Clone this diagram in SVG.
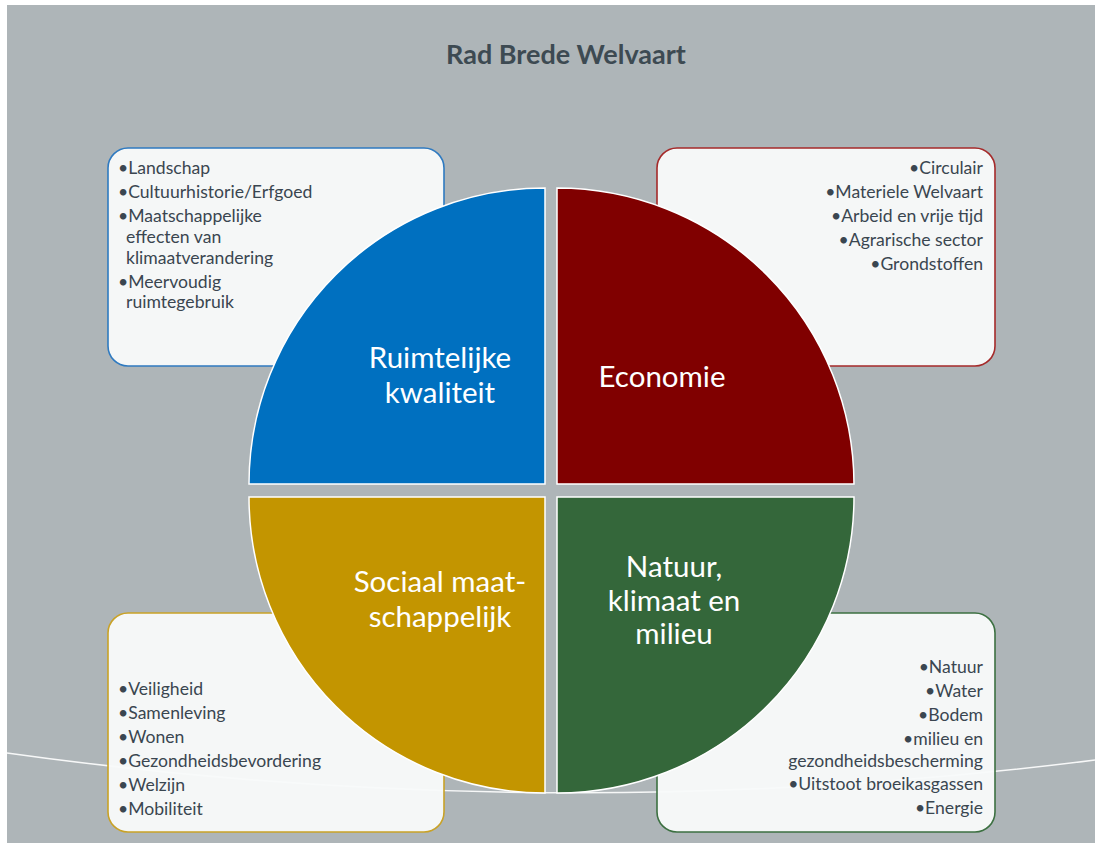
<svg xmlns="http://www.w3.org/2000/svg" width="1095" height="843" viewBox="0 0 1095 843">
  <style>
    .box { fill: #f8fafa; fill-opacity: 0.96; stroke-width: 1.6; }
    .q { stroke: #ffffff; stroke-width: 1.5; }
    .t { font-family: Lato, "Open Sans", sans-serif; font-size: 17.6px; fill: #3a4650; }
    .r { text-anchor: end; }
    .ql { font-family: Lato, "Open Sans", sans-serif; font-size: 29.5px; fill: #ffffff; text-anchor: middle; }
    .title { font-family: Lato, "Open Sans", sans-serif; font-size: 27px; font-weight: bold; fill: #3d4a52; text-anchor: middle; }
  </style>
  <rect x="0" y="0" width="1095" height="843" fill="#ffffff"/>
  <rect id="background" x="7" y="5" width="1088" height="838" fill="#aeb5b8"/>
  <text id="title" class="title" x="566" y="64">Rad Brede Welvaart</text>

  <g id="connectors">
    <path d="M7,753 Q551,829 1095,760" fill="none" stroke="#ffffff" stroke-width="1.5" stroke-opacity="0.9"/>
  </g>

  <g id="box-ruimtelijk">
    <rect class="box" x="108" y="148" width="336" height="218" rx="20" stroke="#2f7ac0"/>
    <text class="t" x="118" y="174">•Landschap</text>
    <text class="t" x="118" y="198">•Cultuurhistorie/Erfgoed</text>
    <text class="t" x="118" y="222">•Maatschappelijke</text>
    <text class="t" x="126" y="243">effecten van</text>
    <text class="t" x="126" y="264">klimaatverandering</text>
    <text class="t" x="118" y="288">•Meervoudig</text>
    <text class="t" x="126" y="308">ruimtegebruik</text>
  </g>
  <g id="box-economie">
    <rect class="box" x="657" y="148" width="338" height="218" rx="20" stroke="#a52a2a"/>
    <text class="t r" x="983" y="174">•Circulair</text>
    <text class="t r" x="983" y="198">•Materiele Welvaart</text>
    <text class="t r" x="983" y="222">•Arbeid en vrije tijd</text>
    <text class="t r" x="983" y="246">•Agrarische sector</text>
    <text class="t r" x="983" y="270">•Grondstoffen</text>
  </g>
  <g id="box-sociaal">
    <rect class="box" x="108" y="613" width="336" height="219" rx="20" stroke="#c9a227"/>
    <text class="t" x="118" y="695">•Veiligheid</text>
    <text class="t" x="118" y="719">•Samenleving</text>
    <text class="t" x="118" y="743">•Wonen</text>
    <text class="t" x="118" y="767">•Gezondheidsbevordering</text>
    <text class="t" x="118" y="791">•Welzijn</text>
    <text class="t" x="118" y="815">•Mobiliteit</text>
  </g>
  <g id="box-natuur">
    <rect class="box" x="657" y="613" width="338" height="219" rx="20" stroke="#3c7041"/>
    <text class="t r" x="983" y="673">•Natuur</text>
    <text class="t r" x="983" y="697">•Water</text>
    <text class="t r" x="983" y="721">•Bodem</text>
    <text class="t r" x="983" y="745">•milieu en</text>
    <text class="t r" x="983" y="767">gezondheidsbescherming</text>
    <text class="t r" x="983" y="790">•Uitstoot broeikasgassen</text>
    <text class="t r" x="983" y="814">•Energie</text>
  </g>

  <g id="q-ruimtelijk">
    <path class="q" d="M545,484 L249,484 A296,296 0 0 1 545,188 Z" fill="#0070c0"/>
    <text class="ql" x="440" y="368">Ruimtelijke</text>
    <text class="ql" x="440" y="403">kwaliteit</text>
  </g>
  <g id="q-economie">
    <path class="q" d="M557,484 L557,188 A297,297 0 0 1 854,484 Z" fill="#800000"/>
    <text class="ql" x="662" y="387">Economie</text>
  </g>
  <g id="q-sociaal">
    <path class="q" d="M545,497 L545,793 A296,296 0 0 1 249,497 Z" fill="#c39500"/>
    <text class="ql" x="440" y="592">Sociaal maat-</text>
    <text class="ql" x="440" y="627">schappelijk</text>
  </g>
  <g id="q-natuur">
    <path class="q" d="M557,497 L854,497 A297,296 0 0 1 557,793 Z" fill="#34673a"/>
    <text class="ql" x="674" y="577">Natuur,</text>
    <text class="ql" x="674" y="611">klimaat en</text>
    <text class="ql" x="674" y="644">milieu</text>
  </g>
</svg>
